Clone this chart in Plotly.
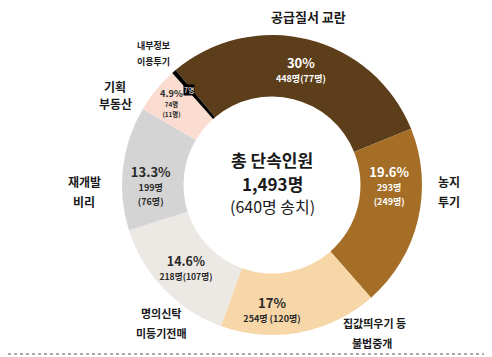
import plotly.graph_objects as go

categories = ["공급질서 교란", "농지 투기", "집값띄우기 등 불법중개", "명의신탁 미등기전매",
              "재개발 비리", "기획 부동산", "내부정보 이용투기"]
counts = [448, 293, 254, 218, 199, 74, 7]
referred = [77, 249, 120, 107, 76, 11, None]
pct_labels = ["30%", "19.6%", "17%", "14.6%", "13.3%", "4.9%", ""]
colors = ["#5d3e1b", "#a46e26", "#f7d6a7", "#ece9e4", "#d4d4d4", "#fadcd0", "#000000"]
text_colors = ["#ffffff", "#ffffff", "#2a2a2a", "#2a2a2a", "#2a2a2a", "#2a2a2a", "#ffffff"]

FONT = "Noto Sans CJK KR"

texts = []
for i, (p, c, r) in enumerate(zip(pct_labels, counts, referred)):
    if r is None:
        texts.append("")
        continue
    big = f"<span style='font-size:13px'><b>{p}</b></span>"
    if i in (0, 2, 3):
        sep = " " if i == 2 else ""
        small = f"<span style='font-size:9px'><b>{c}명{sep}({r}명)</b></span>"
    else:
        small = (f"<span style='font-size:9px'><b>{c}명</b></span><br>"
                 f"<span style='font-size:9px'><b>({r}명)</b></span>")
    texts.append(big + "<br>" + small)

fig = go.Figure(go.Pie(
    labels=categories,
    values=counts,
    text=texts,
    texttemplate="%{text}",
    textinfo="text",
    textposition="inside",
    insidetextorientation="horizontal",
    hole=0.59,
    sort=False,
    direction="clockwise",
    rotation=-40,
    marker=dict(colors=colors, line=dict(width=0)),
    textfont=dict(family=FONT, size=11, color=text_colors),
    domain=dict(x=[114 / 492, 414 / 492], y=[30 / 357, 330 / 357]),
    showlegend=False,
    hoverinfo="label+value+percent",
))

DY = 7  # compensation for CJK font vertical metrics
dark = "#1a1a1a"
labels_spec = [
    # (text, x_px, y_px, size, color, bold)
    ("공급질서 교란", 300, 15, 13, dark, True),
    ("내부정보", 145, 45, 9, dark, True),
    ("이용투기", 145, 60, 9, dark, True),
    ("기획", 107, 85, 12, dark, True),
    ("부동산", 107, 103, 12, dark, True),
    ("재개발", 76, 180, 12, dark, True),
    ("비리", 76, 200, 12, dark, True),
    ("농지", 441, 180, 12, dark, True),
    ("투기", 441, 200, 12, dark, True),
    ("명의신탁", 153, 312, 11, dark, True),
    ("미등기전매", 153, 332, 11, dark, True),
    ("집값띄우기 등", 366, 322, 11, dark, True),
    ("불법중개", 364, 342, 11, dark, True),
    ("총 단속인원", 264, 158, 17, dark, True),
    ("1,493명", 264, 182, 17, dark, True),
    ("(640명 송치)", 264, 205, 16, dark, False),
]
annotations = []
for t, x, y, s, col, b in labels_spec:
    annotations.append(dict(
        x=x / 492, y=1 - (y - DY) / 357,
        text=f"<b>{t}</b>" if b else t,
        font=dict(family=FONT, size=s, color=col),
        xref="paper", yref="paper", showarrow=False,
        xanchor="center", yanchor="middle"))
annotations.append(dict(
    x=181 / 492, y=1 - (89 - DY) / 357, text="7명",
    font=dict(family=FONT, size=7, color="#ffffff"), bgcolor="#000000",
    borderpad=0, xref="paper", yref="paper", showarrow=False,
    xanchor="center", yanchor="middle"))

fig.update_layout(
    width=492, height=357,
    margin=dict(l=0, r=0, t=0, b=0),
    paper_bgcolor="#ffffff",
    plot_bgcolor="#ffffff",
    annotations=annotations,
    shapes=[dict(type="line", xref="paper", yref="paper", x0=0, x1=1,
                 y0=1 - 346 / 357, y1=1 - 346 / 357,
                 line=dict(color="#555555", width=1, dash="dot"))],
    font=dict(family=FONT),
)

fig.write_html("out.html")
